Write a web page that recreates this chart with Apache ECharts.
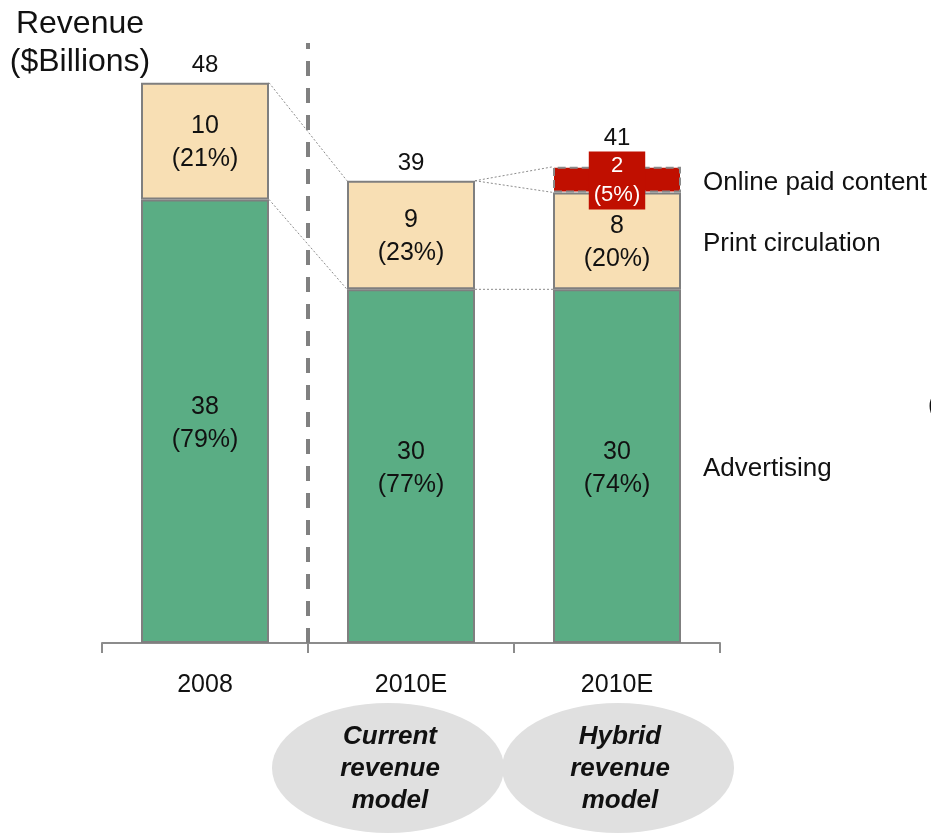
<!DOCTYPE html>
<html>
<head>
<meta charset="utf-8">
<script src="https://cdn.jsdelivr.net/npm/echarts@6/dist/echarts.min.js"></script>
<style>
  html, body { margin: 0; padding: 0; background: #fff; }
  #chart { width: 931px; height: 833px; }
</style>
</head>
<body>
<div id="chart"></div>
<script>
// data
const categories = ['2008', '2010E', '2010E'];
const advertising = [38, 30.3, 30.3];
const printCirculation = [10, 9.3, 8.3];
const onlinePaid = ['-', '-', 2.2];
const advLabels = ['38\n(79%)', '30\n(77%)', '30\n(74%)'];
const printLabels = ['10\n(21%)', '9\n(23%)', '8\n(20%)'];
const onlineLabels = ['', '', '2\n(5%)'];
const totalLabels = ['48', '39', '41'];
const segmentNames = ['Advertising', 'Print circulation', 'Online paid content'];
const modelNames = ['Current\nrevenue\nmodel', 'Hybrid\nrevenue\nmodel'];

const FONT = '"Liberation Sans", Arial, sans-serif';
const halfW = 64 / 206; // half bar width in category units

const num = v => (typeof v === 'number' ? v : 0);
const printTops = advertising.map((a, i) => a + printCirculation[i]);
const totals = printTops.map((p, i) => p + num(onlinePaid[i]));

// dotted connectors between bars
const connectors = [
  [[0.5 + halfW, totals[0]], [1.5 - halfW, totals[1]]],
  [[0.5 + halfW, advertising[0]], [1.5 - halfW, advertising[1]]],
  [[1.5 + halfW, totals[1]], [2.5 - halfW, totals[2]]],
  [[1.5 + halfW, totals[1]], [2.5 - halfW, printTops[2]]],
  [[1.5 + halfW, advertising[1]], [2.5 - halfW, advertising[2]]]
];

const chart = echarts.init(document.getElementById('chart'));

const barLabel = {
  show: true,
  position: 'inside',
  offset: [0, 2],
  color: '#111',
  fontFamily: FONT,
  fontSize: 25,
  lineHeight: 33
};

const series = [
  {
    name: segmentNames[0], type: 'bar', stack: 'rev', barWidth: 128,
    data: advertising,
    itemStyle: { color: '#5aad84', borderColor: '#7f7f7f', borderWidth: 2 },
    label: Object.assign({}, barLabel, { formatter: p => advLabels[p.dataIndex] }),
    z: 2
  },
  {
    name: segmentNames[1], type: 'bar', stack: 'rev', barWidth: 128,
    data: printCirculation,
    itemStyle: { color: '#f8dfb4', borderColor: '#7f7f7f', borderWidth: 2 },
    label: Object.assign({}, barLabel, { formatter: p => printLabels[p.dataIndex] }),
    z: 2
  },
  {
    name: segmentNames[2], type: 'bar', stack: 'rev', barWidth: 128,
    data: onlinePaid,
    itemStyle: { color: '#c00f00', borderColor: '#8a8a8a', borderWidth: 2, borderType: 'dashed' },
    label: {
      show: true, position: 'inside', offset: [0, 1], color: '#fff', fontFamily: FONT,
      fontSize: 22, lineHeight: 29, backgroundColor: '#c00f00', padding: [0, 5],
      formatter: p => onlineLabels[p.dataIndex]
    },
    z: 3
  },
  // totals above the bars
  {
    type: 'scatter', xAxisIndex: 1, symbolSize: 0, silent: true,
    itemStyle: { opacity: 1 },
    data: totals.map((t, i) => ({
      value: [i + 0.5, t],
      label: { distance: i === 2 ? 16 : 5 }
    })),
    label: {
      show: true, position: 'top', color: '#111', fontFamily: FONT, fontSize: 24,
      formatter: p => totalLabels[p.dataIndex]
    }
  },
  // segment names to the right of the last bar
  {
    type: 'scatter', xAxisIndex: 1, symbolSize: 0, silent: true,
    itemStyle: { opacity: 1 },
    data: [
      [2.5 + halfW, advertising[2] / 2],
      [2.5 + halfW, advertising[2] + printCirculation[2] / 2],
      [2.5 + halfW, printTops[2] + num(onlinePaid[2]) / 2]
    ],
    label: {
      show: true, position: 'right', distance: 22, offset: [0, 3], color: '#111',
      fontFamily: FONT, fontSize: 26,
      formatter: p => segmentNames[p.dataIndex]
    }
  },
  // vertical divider
  {
    type: 'line', xAxisIndex: 1, symbol: 'none', silent: true,
    data: [[1, 0], [1, 51.4]],
    lineStyle: { color: '#808080', width: 4, type: [15, 12] },
    z: 1
  }
];

connectors.forEach(c => {
  series.push({
    type: 'line', xAxisIndex: 1, symbol: 'none', silent: true,
    data: c,
    lineStyle: { color: '#8c8c8c', width: 1, type: [2, 2] },
    z: 1
  });
});

const graphic = [
  {
    type: 'text', x: 80, y: 5,
    style: {
      text: 'Revenue\n($Billions)', fill: '#111', font: '32px ' + FONT,
      align: 'center', lineHeight: 38
    }
  },
  {
    type: 'text', x: 928, y: 394,
    style: { text: '(', fill: '#111', font: '25px ' + FONT }
  }
];

[388, 618].forEach((cx, i) => {
  graphic.push({
    type: 'circle', x: cx, y: 768, scaleY: 65 / 116,
    shape: { cx: 0, cy: 0, r: 116 },
    style: { fill: '#e0e0e0' },
    z: 0
  });
  graphic.push({
    type: 'text', x: cx + 2, y: 769,
    style: {
      text: modelNames[i], fill: '#111',
      font: 'italic bold 26px ' + FONT,
      align: 'center', verticalAlign: 'middle', lineHeight: 32
    },
    z: 1
  });
});

chart.setOption({
  backgroundColor: '#fff',
  animation: false,
  grid: { left: 102, right: 211, top: 1, bottom: 190, containLabel: false },
  xAxis: [
    {
      type: 'category', data: categories,
      axisLine: { lineStyle: { color: '#8c8c8c', width: 2 } },
      axisTick: { show: true, length: 10, lineStyle: { color: '#8c8c8c', width: 2 } },
      axisLabel: { color: '#111', fontFamily: FONT, fontSize: 25, margin: 30 }
    },
    { type: 'value', min: 0, max: 3, show: false }
  ],
  yAxis: {
    type: 'value', min: 0, max: 55, show: false,
    splitLine: { show: false }
  },
  series: series,
  graphic: graphic
});
</script>
</body>
</html>
